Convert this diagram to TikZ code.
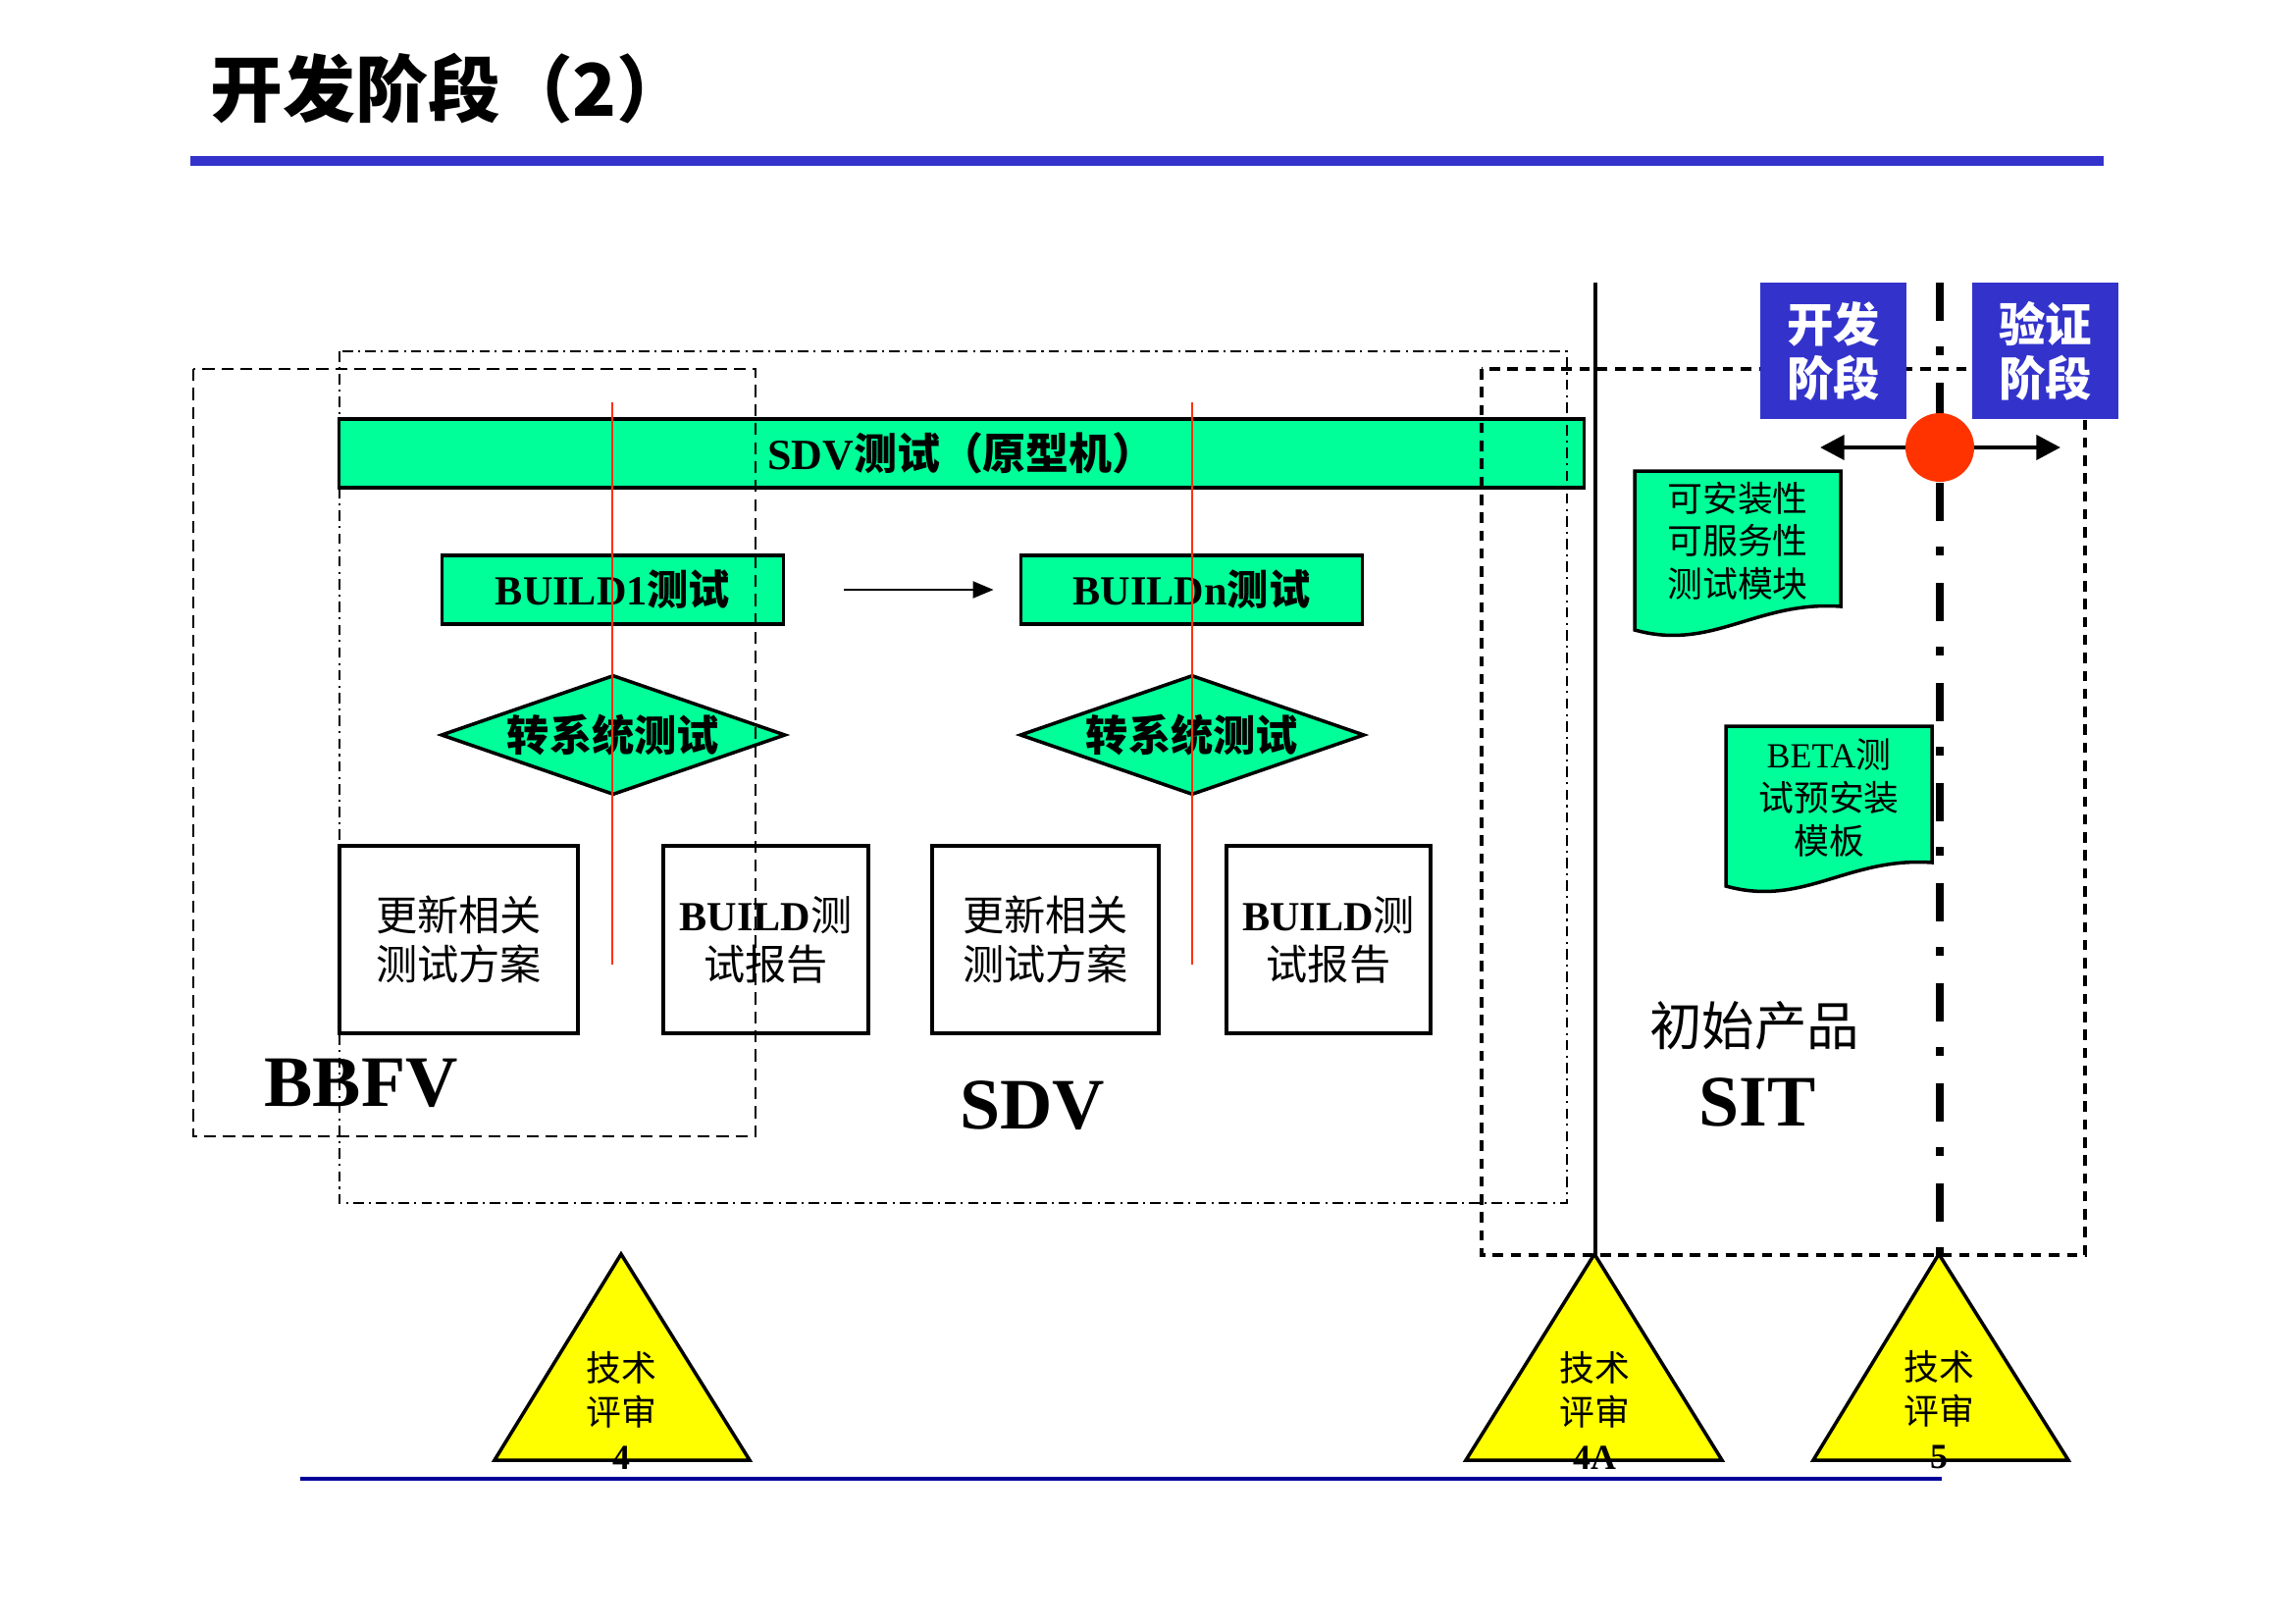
\documentclass[tikz,border=0pt]{standalone}
\usepackage{fontspec}
\setmainfont{Liberation Serif}
\newfontfamily\cjkfont{Noto Sans CJK SC}
\usetikzlibrary{calc,shapes.geometric,arrows.meta}
\usepackage{xcolor}
\definecolor{sdvgreen}{HTML}{00FF99}
\definecolor{phaseblue}{HTML}{3333CC}
\definecolor{baseblue}{HTML}{000099}
\definecolor{markred}{HTML}{FF3300}
\definecolor{reviewyellow}{HTML}{FFFF00}
\newcommand{\zh}[1]{{\cjkfont #1}}
\tikzset{
  greenbar/.style={draw=black,fill=sdvgreen,line width=1pt,inner sep=0pt,font={\bfseries\fontsize{12.5}{15}\selectfont}},
  buildbox/.style={greenbar,minimum width=3.48cm,minimum height=0.70cm,font={\bfseries\fontsize{12}{14}\selectfont}},
  turnbox/.style={diamond,draw=black,fill=sdvgreen,line width=1pt,inner sep=0pt,aspect=2.9,minimum width=3.51cm,minimum height=1.22cm,font={\cjkfont\bfseries\fontsize{12.3}{14}\selectfont}},
  docbox/.style={draw=black,fill=white,line width=1pt,inner sep=0pt,minimum height=1.91cm,align=center,font={\fontsize{12}{14.2}\selectfont}},
  phasebox/.style={fill=phaseblue,inner sep=0pt,minimum width=1.49cm,minimum height=1.39cm,text=white,align=center,font={\cjkfont\bfseries\fontsize{13.5}{15.6}\selectfont}},
  wavedoc/.style={draw=black,fill=sdvgreen,line width=1pt},
  wavetext/.style={inner sep=0pt,align=center,font={\cjkfont\fontsize{10.2}{12.4}\selectfont}},
  reviewtri/.style={draw=black,fill=reviewyellow,line width=1pt,line join=miter},
  reviewtext/.style={inner sep=0pt,align=center,font={\cjkfont\fontsize{10.2}{12.8}\selectfont}},
  bigword/.style={inner sep=0pt,font={\bfseries\fontsize{21}{24}\selectfont}},
  redmark/.style={markred,line width=0.6pt}
}

\begin{document}
\begin{tikzpicture}[x=0.01cm,y=-0.01cm]
    \useasboundingbox (0,0) rectangle (2339,1654);

    % Title
    \node[anchor=west,inner sep=0pt,font={\cjkfont\bfseries\fontsize{21}{25}\selectfont}] (title) at (214,90) {开发阶段（2）};
    \draw[phaseblue,line width=2.6pt] (194,164) -- (2144,164);

    % SDV test bar and builds
    \node[greenbar,minimum width=12.68cm,minimum height=0.70cm] (sdvbar) at (980,462) {SDV\zh{测试（原型机）}};
    \node[buildbox] (build1) at (624.5,601) {BUILD1\zh{测试}};
    \node[buildbox] (buildn) at (1214.5,601) {BUILDn\zh{测试}};
    \draw[line width=0.8pt,-{Triangle[length=6pt,width=4.8pt]},shorten <=0.6cm,shorten >=0.26cm] (build1) -- (buildn);

    \node[turnbox] (turn1) at (625,749) {转系统测试};
    \node[turnbox] (turnn) at (1215,749) {转系统测试};

    % Plan and report boxes
    \node[docbox,minimum width=2.43cm] (plan1) at (467.5,957.5) {\zh{更新相关}\\\zh{测试方案}};
    \node[docbox,minimum width=2.09cm] (report1) at (780.5,957.5) {\textbf{BUILD}\zh{测}\\\zh{试报告}};
    \node[docbox,minimum width=2.31cm] (plann) at (1065.5,957.5) {\zh{更新相关}\\\zh{测试方案}};
    \node[docbox,minimum width=2.08cm] (reportn) at (1354,957.5) {\textbf{BUILD}\zh{测}\\\zh{试报告}};

    % SIT documents
    \draw[wavedoc] (1666,480) -- (1876,480) -- (1876,618) .. controls (1790,612) and (1745,664) .. (1666,642) -- cycle;
    \node[wavetext] (installdoc) at (1771,551) {可安装性\\可服务性\\测试模块};
    \draw[wavedoc] (1759,740) -- (1969,740) -- (1969,879) .. controls (1883,873) and (1838,925) .. (1759,903) -- cycle;
    \node[wavetext] (betadoc) at (1864,813) {{\rmfamily BETA}测\\试预安装\\模板};

    % Stage names
    \node[bigword] (bbfv) at (368,1104) {BBFV};
    \node[bigword] (sdv) at (1052,1127) {SDV};
    \node[inner sep=0pt,font={\cjkfont\fontsize{15.2}{18}\selectfont}] (initprod) at (1788,1045) {初始产品};
    \node[bigword] (sit) at (1791,1123) {SIT};

    % Stage frames
    \draw[line width=0.8pt,dash pattern=on 3.5pt off 2pt] (197,376) rectangle (770,1158);
    \draw[line width=0.7pt,dash pattern=on 3pt off 1.5pt on 0.6pt off 1.5pt] (346,358) rectangle (1597,1226);
    \draw[line width=0.9pt,dash pattern=on 3pt off 2.2pt] (1510,376) rectangle (2125,1279);

    % Phase boundary
    \draw[line width=1pt] (1626,288) -- (1626,1279);
    \draw[line width=2.2pt,dash pattern=on 11pt off 7.6pt on 2.4pt off 8pt] (1977,288) -- (1977,1279);
    \node[phasebox] (devphase) at (1868.5,357.5) {开发\\阶段};
    \node[phasebox] (verphase) at (2084.5,357.5) {验证\\阶段};
    \coordinate (gateleft) at (1855,456);
    \coordinate (gateright) at (2100,456);
    \draw[line width=1.4pt,{Triangle[length=7pt,width=7pt]}-{Triangle[length=7pt,width=7pt]}] (gateleft) -- (gateright);
    \node[circle,fill=markred,minimum size=0.70cm,inner sep=0pt] (gate) at (1977,456) {};

    % Technical reviews
    \filldraw[reviewtri] (633,1278) -- (764,1488) -- (504,1488) -- cycle;
    \node[reviewtext] (review4) at (633,1437) {技术\\评审\\{\rmfamily\bfseries 4}};
    \filldraw[reviewtri] (1625,1278) -- (1755,1488) -- (1494,1488) -- cycle;
    \node[reviewtext] (review4a) at (1625,1437) {技术\\评审\\{\rmfamily\bfseries 4A}};
    \filldraw[reviewtri] (1976,1278) -- (2108,1488) -- (1848,1488) -- cycle;
    \node[reviewtext] (review5) at (1976,1437) {技术\\评审\\{\rmfamily\bfseries 5}};
    \draw[baseblue,line width=1.1pt] (306,1507) -- (1979,1507);

    % Red marks through the builds
    \draw[redmark] (624,410) -- (624,983);
    \draw[redmark] (1215,410) -- (1215,983);
\end{tikzpicture}
\end{document}
